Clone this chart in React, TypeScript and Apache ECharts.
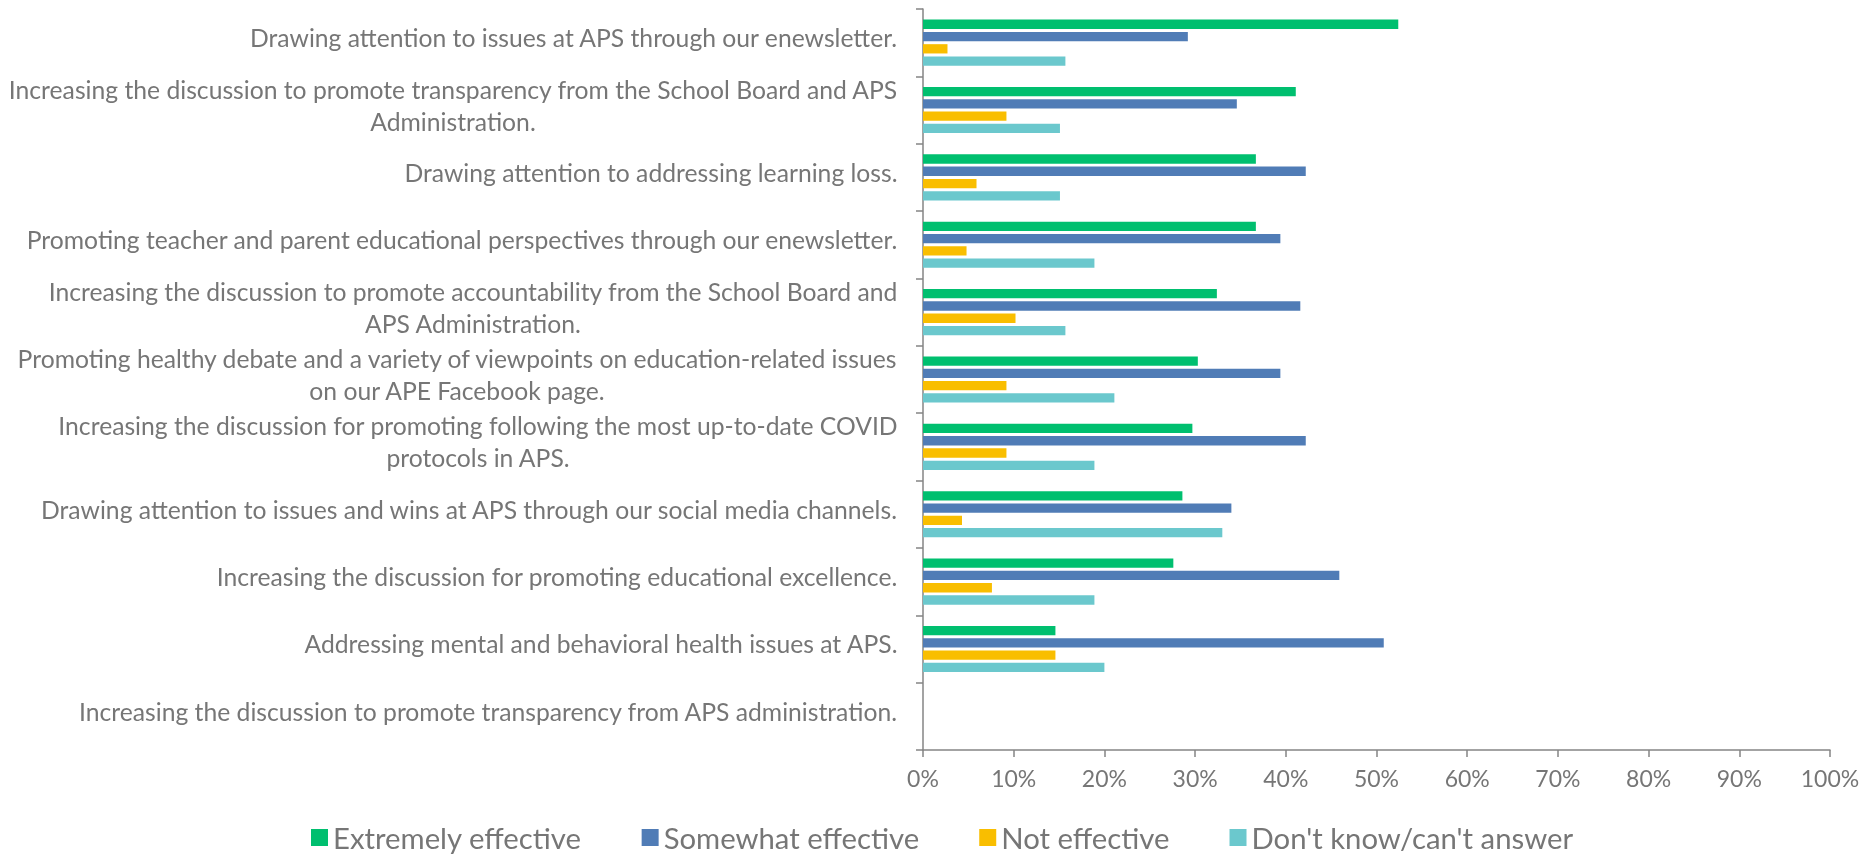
import React, { useEffect, useRef } from "react";
import * as echarts from "echarts";

const categories: string[] = [
  "Drawing attention to issues at APS through our enewsletter.",
  "Increasing the discussion to promote transparency from the School Board and APS\nAdministration.",
  "Drawing attention to addressing learning loss.",
  "Promoting teacher and parent educational perspectives through our enewsletter.",
  "Increasing the discussion to promote accountability from the School Board and\nAPS Administration.",
  "Promoting healthy debate and a variety of viewpoints on education-related issues\non our APE Facebook page.",
  "Increasing the discussion for promoting following the most up-to-date COVID\nprotocols in APS.",
  "Drawing attention to issues and wins at APS through our social media channels.",
  "Increasing the discussion for promoting educational excellence.",
  "Addressing mental and behavioral health issues at APS.",
  "Increasing the discussion to promote transparency from APS administration.",
];

const seriesNames: string[] = [
  "Extremely effective",
  "Somewhat effective",
  "Not effective",
  "Don't know/can't answer",
];

const extremelyEffective: (number | null)[] = [52.4, 41.1, 36.7, 36.7, 32.4, 30.3, 29.7, 28.6, 27.6, 14.6, null];
const somewhatEffective: (number | null)[] = [29.2, 34.6, 42.2, 39.4, 41.6, 39.4, 42.2, 34.0, 45.9, 50.8, null];
const notEffective: (number | null)[] = [2.7, 9.2, 5.9, 4.8, 10.2, 9.2, 9.2, 4.3, 7.6, 14.6, null];
const dontKnow: (number | null)[] = [15.7, 15.1, 15.1, 18.9, 15.7, 21.1, 18.9, 33.0, 18.9, 20.0, null];

const xTicks: number[] = [0, 10, 20, 30, 40, 50, 60, 70, 80, 90, 100];

const colors = ["#00BF6F", "#507CB6", "#F9BE00", "#6BC8CD"];

const FONT = "Lato";
const TEXT_COLOR = "#767676";
const AXIS_COLOR = "#858585";
const Y_FONT_SIZE = 24.7;

function measure(text: string, size: number): number {
  const c = document.createElement("canvas").getContext("2d");
  if (!c) return text.length * size * 0.45;
  c.font = `${size}px ${FONT}`;
  return c.measureText(text).width;
}

export default function App() {
  const ref = useRef<HTMLDivElement>(null);

  useEffect(() => {
    if (!ref.current) return;
    const chart = echarts.init(ref.current, null, { renderer: "svg" });
    const allData = [extremelyEffective, somewhatEffective, notEffective, dontKnow];

    const rich: Record<string, any> = {};
    categories.forEach((cat, i) => {
      const w = Math.max(...cat.split("\n").map((l) => measure(l, Y_FONT_SIZE)));
      rich["r" + i] = {
        width: Math.ceil(w),
        align: "center",
        fontSize: Y_FONT_SIZE,
        color: TEXT_COLOR,
        fontFamily: FONT,
        lineHeight: 32,
      };
    });

    chart.setOption({
      animation: false,
      textStyle: { fontFamily: FONT },
      grid: { left: 923, right: 43, top: 9, bottom: 105, containLabel: false },
      legend: {
        data: seriesNames,
        top: 818,
        left: 306,
        icon: "rect",
        itemWidth: 17,
        itemHeight: 17,
        itemGap: 60,
        textStyle: {
          fontSize: 29.3,
          color: TEXT_COLOR,
          fontFamily: FONT,
        },
      },
      xAxis: {
        type: "value",
        min: xTicks[0],
        max: xTicks[xTicks.length - 1],
        interval: 10,
        axisLine: { show: true, lineStyle: { color: AXIS_COLOR, width: 1.5 } },
        axisTick: { show: true, length: 7, lineStyle: { color: AXIS_COLOR, width: 1.5 } },
        splitLine: { show: false },
        axisLabel: {
          formatter: "{value}%",
          fontSize: 23,
          color: TEXT_COLOR,
          fontFamily: FONT,
          margin: 16,
        },
      },
      yAxis: {
        type: "category",
        inverse: true,
        data: categories,
        axisLine: { show: true, lineStyle: { color: AXIS_COLOR, width: 1.5 } },
        axisTick: { show: true, length: 7, alignWithLabel: false, lineStyle: { color: AXIS_COLOR, width: 1.5 } },
        axisLabel: {
          margin: 25,
          fontSize: Y_FONT_SIZE,
          color: TEXT_COLOR,
          fontFamily: FONT,
          lineHeight: 32,
          padding: [0, 0, 10, 0],
          formatter: (v: string, idx: number) =>
            v.split("\n").map((l) => `{r${idx}|${l}}`).join("\n"),
          rich,
        },
      },
      series: seriesNames.map((name, i) => ({
        name,
        type: "bar",
        data: allData[i],
        barWidth: 9.3,
        barGap: "32%",
        itemStyle: { color: colors[i] },
      })),
    });
    return () => chart.dispose();
  }, []);

  return (
    <div
      ref={ref}
      style={{ position: "fixed", left: 0, top: 0, width: 1873, height: 855 }}
    />
  );
}
